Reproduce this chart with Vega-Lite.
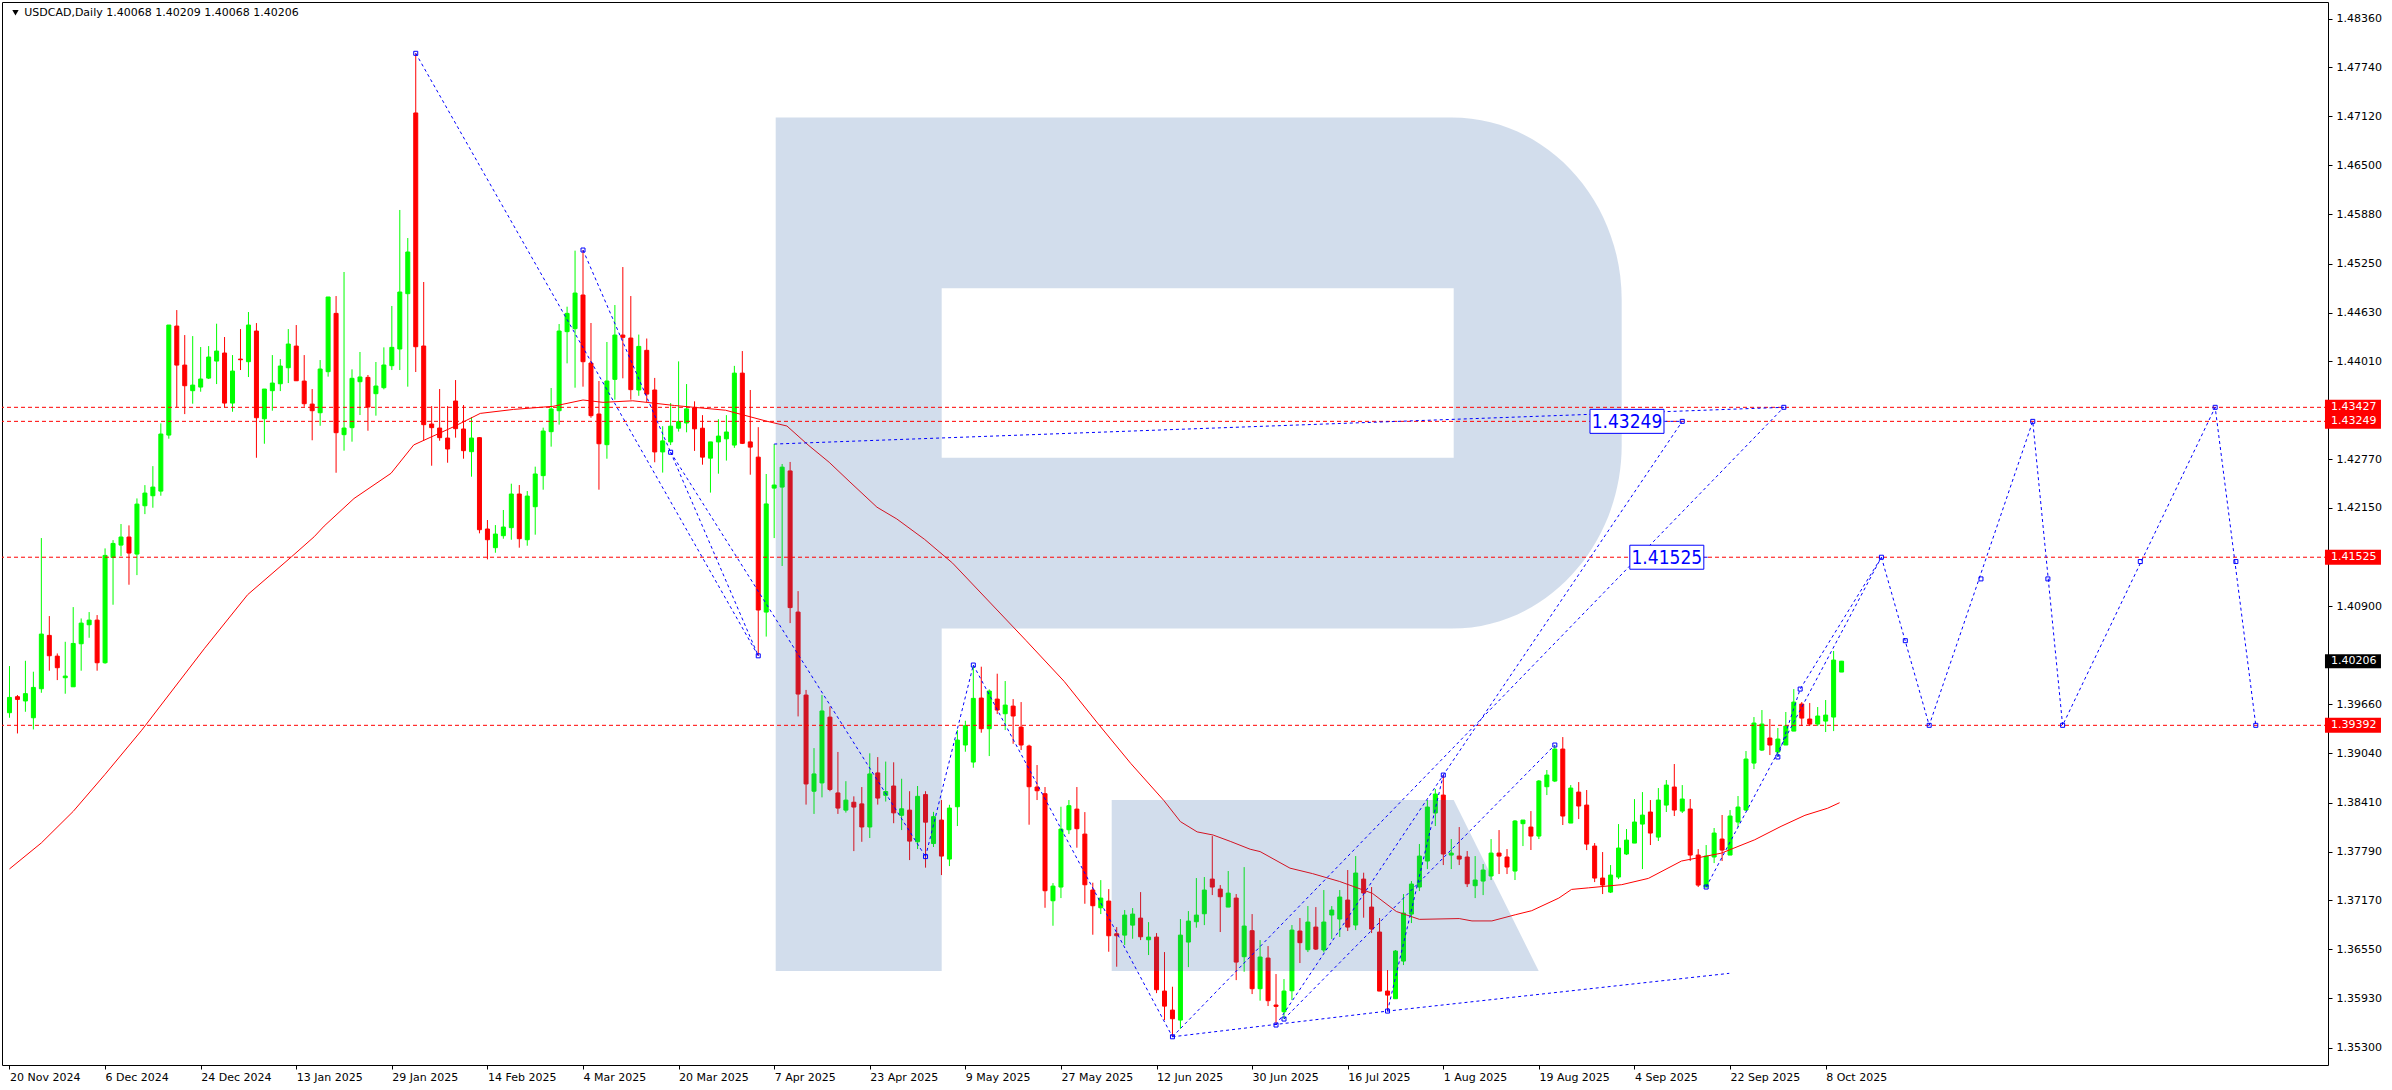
{
"$schema": "https://vega.github.io/schema/vega-lite/v6.json",
"width": 2326, "height": 1063,
"autosize": "none",
"padding": {"left": 2, "top": 2, "right": 64, "bottom": 25},
"background": "white",
"config": {"view": {"stroke": "#000000", "strokeWidth": 1}, "font": "DejaVu Sans"},
"datasets": {
"candles": [
{"i":0,"o":1.39552,"h":1.40144,"l":1.39488,"c":1.39746},{"i":1,"o":1.39755,"h":1.39776,"l":1.39289,"c":1.39721},{"i":2,"o":1.39701,"h":1.40211,"l":1.39564,"c":1.39794},{"i":3,"o":1.39488,"h":1.40072,"l":1.3934,"c":1.39873},{"i":4,"o":1.39856,"h":1.41768,"l":1.39805,"c":1.4055},{"i":5,"o":1.40533,"h":1.40778,"l":1.40085,"c":1.40275},{"i":6,"o":1.4027,"h":1.40304,"l":1.39966,"c":1.40123},{"i":7,"o":1.39996,"h":1.40452,"l":1.39793,"c":1.40017},{"i":8,"o":1.39881,"h":1.40892,"l":1.39881,"c":1.40431},{"i":9,"o":1.40427,"h":1.40748,"l":1.40085,"c":1.40689},
{"i":10,"o":1.40668,"h":1.40829,"l":1.40503,"c":1.40727},{"i":11,"o":1.40727,"h":1.40791,"l":1.40085,"c":1.40186},{"i":12,"o":1.40186,"h":1.41637,"l":1.40173,"c":1.41548},{"i":13,"o":1.41521,"h":1.41742,"l":1.40922,"c":1.417},{"i":14,"o":1.41679,"h":1.41946,"l":1.4154,"c":1.41781},{"i":15,"o":1.41781,"h":1.41929,"l":1.41176,"c":1.41578},{"i":16,"o":1.41565,"h":1.42271,"l":1.41298,"c":1.42199},{"i":17,"o":1.42178,"h":1.4244,"l":1.42072,"c":1.42339},{"i":18,"o":1.42305,"h":1.42681,"l":1.42153,"c":1.42415},{"i":19,"o":1.42364,"h":1.43223,"l":1.42305,"c":1.43088},
{"i":20,"o":1.43075,"h":1.44471,"l":1.43029,"c":1.44471},{"i":21,"o":1.44458,"h":1.44661,"l":1.43426,"c":1.43963},{"i":22,"o":1.43963,"h":1.44344,"l":1.43341,"c":1.43701},{"i":23,"o":1.43638,"h":1.44331,"l":1.43473,"c":1.43709},{"i":24,"o":1.43684,"h":1.44192,"l":1.43625,"c":1.43786},{"i":25,"o":1.43798,"h":1.44204,"l":1.43786,"c":1.44065},{"i":26,"o":1.44014,"h":1.44488,"l":1.43722,"c":1.44141},{"i":27,"o":1.44116,"h":1.44319,"l":1.43426,"c":1.43481},{"i":28,"o":1.43481,"h":1.4409,"l":1.43371,"c":1.43887},{"i":29,"o":1.44039,"h":1.4442,"l":1.439,"c":1.44031},
{"i":30,"o":1.44006,"h":1.44636,"l":1.43811,"c":1.44471},{"i":31,"o":1.44395,"h":1.44496,"l":1.42787,"c":1.43295},{"i":32,"o":1.43282,"h":1.43659,"l":1.42965,"c":1.43659},{"i":33,"o":1.43638,"h":1.4409,"l":1.43384,"c":1.43735},{"i":34,"o":1.43726,"h":1.44039,"l":1.43633,"c":1.43951},{"i":35,"o":1.43929,"h":1.4442,"l":1.43735,"c":1.4423},{"i":36,"o":1.44204,"h":1.44471,"l":1.43764,"c":1.43764},{"i":37,"o":1.4376,"h":1.4409,"l":1.43434,"c":1.43473},{"i":38,"o":1.43468,"h":1.43659,"l":1.43009,"c":1.43384},{"i":39,"o":1.43358,"h":1.44027,"l":1.43193,"c":1.43913},
{"i":40,"o":1.43879,"h":1.44827,"l":1.43816,"c":1.44827},{"i":41,"o":1.44619,"h":1.44839,"l":1.42597,"c":1.43105},{"i":42,"o":1.4308,"h":1.45144,"l":1.42877,"c":1.43164},{"i":43,"o":1.43169,"h":1.43909,"l":1.42991,"c":1.43795},{"i":44,"o":1.43752,"h":1.44129,"l":1.43329,"c":1.43812},{"i":45,"o":1.43807,"h":1.43837,"l":1.4313,"c":1.43431},{"i":46,"o":1.436,"h":1.44002,"l":1.43321,"c":1.43697},{"i":47,"o":1.43676,"h":1.44188,"l":1.43655,"c":1.43964},{"i":48,"o":1.43955,"h":1.44713,"l":1.439,"c":1.44188},{"i":49,"o":1.44167,"h":1.45931,"l":1.439,"c":1.4489},
{"i":50,"o":1.44869,"h":1.45575,"l":1.43689,"c":1.45398},{"i":51,"o":1.47162,"h":1.47919,"l":1.43875,"c":1.44196},{"i":52,"o":1.44205,"h":1.45017,"l":1.43003,"c":1.43207},{"i":53,"o":1.43215,"h":1.43443,"l":1.42686,"c":1.43169},{"i":54,"o":1.43164,"h":1.43659,"l":1.43003,"c":1.43042},{"i":55,"o":1.43037,"h":1.43443,"l":1.42724,"c":1.42898},{"i":56,"o":1.43507,"h":1.43773,"l":1.43042,"c":1.43156},{"i":57,"o":1.43152,"h":1.43456,"l":1.42775,"c":1.42877},{"i":58,"o":1.42864,"h":1.43304,"l":1.42547,"c":1.43037},{"i":59,"o":1.43042,"h":1.4305,"l":1.41828,"c":1.41874},
{"i":60,"o":1.41883,"h":1.41997,"l":1.41498,"c":1.41747},{"i":61,"o":1.41646,"h":1.41933,"l":1.41582,"c":1.41819},{"i":62,"o":1.41798,"h":1.42124,"l":1.4176,"c":1.41908},{"i":63,"o":1.419,"h":1.42458,"l":1.41747,"c":1.42327},{"i":64,"o":1.42327,"h":1.42441,"l":1.41646,"c":1.4176},{"i":65,"o":1.41747,"h":1.42365,"l":1.41671,"c":1.42301},{"i":66,"o":1.42166,"h":1.42674,"l":1.41811,"c":1.42581},{"i":67,"o":1.4256,"h":1.43169,"l":1.42382,"c":1.43126},{"i":68,"o":1.43118,"h":1.43672,"l":1.42928,"c":1.43406},{"i":69,"o":1.43384,"h":1.44484,"l":1.43207,"c":1.44395},
{"i":70,"o":1.44387,"h":1.44704,"l":1.43985,"c":1.44619},{"i":71,"o":1.44425,"h":1.45415,"l":1.43676,"c":1.44877},{"i":72,"o":1.44852,"h":1.45423,"l":1.43689,"c":1.44006},{"i":73,"o":1.43989,"h":1.44497,"l":1.43295,"c":1.43321},{"i":74,"o":1.43342,"h":1.43761,"l":1.42382,"c":1.42965},{"i":75,"o":1.42953,"h":1.44256,"l":1.42775,"c":1.43761},{"i":76,"o":1.43782,"h":1.44725,"l":1.43524,"c":1.44344},{"i":77,"o":1.44344,"h":1.45207,"l":1.43795,"c":1.44315},{"i":78,"o":1.44306,"h":1.44839,"l":1.43524,"c":1.43651},{"i":79,"o":1.43647,"h":1.4435,"l":1.43573,"c":1.442},
{"i":80,"o":1.4415,"h":1.443,"l":1.43494,"c":1.43595},{"i":81,"o":1.43647,"h":1.438,"l":1.4273,"c":1.42861},{"i":82,"o":1.42861,"h":1.43188,"l":1.42599,"c":1.43001},{"i":83,"o":1.42988,"h":1.43481,"l":1.42948,"c":1.43188},{"i":84,"o":1.43162,"h":1.4401,"l":1.43119,"c":1.43245},{"i":85,"o":1.43228,"h":1.43722,"l":1.4311,"c":1.43407},{"i":86,"o":1.4342,"h":1.43503,"l":1.42874,"c":1.43154},{"i":87,"o":1.43162,"h":1.43328,"l":1.42699,"c":1.42795},{"i":88,"o":1.42782,"h":1.42988,"l":1.42345,"c":1.42988},{"i":89,"o":1.42988,"h":1.43276,"l":1.42585,"c":1.43062},
{"i":90,"o":1.43027,"h":1.43328,"l":1.42751,"c":1.43114},{"i":91,"o":1.42948,"h":1.43953,"l":1.42913,"c":1.43861},{"i":92,"o":1.43861,"h":1.44141,"l":1.42961,"c":1.4297},{"i":93,"o":1.42988,"h":1.43647,"l":1.42572,"c":1.42922},{"i":94,"o":1.42795,"h":1.43175,"l":1.40274,"c":1.40855},{"i":95,"o":1.40829,"h":1.42581,"l":1.40518,"c":1.42201},{"i":96,"o":1.42402,"h":1.42961,"l":1.41768,"c":1.42441},{"i":97,"o":1.42415,"h":1.42708,"l":1.41414,"c":1.42668},{"i":98,"o":1.4262,"h":1.42734,"l":1.40689,"c":1.40886},{"i":99,"o":1.40829,"h":1.41095,"l":1.39505,"c":1.39789},
{"i":100,"o":1.39776,"h":1.39841,"l":1.38386,"c":1.38648},{"i":101,"o":1.38556,"h":1.39103,"l":1.38268,"c":1.38775},{"i":102,"o":1.38661,"h":1.39776,"l":1.38478,"c":1.39574},{"i":103,"o":1.39496,"h":1.39631,"l":1.38556,"c":1.38578},{"i":104,"o":1.38534,"h":1.39054,"l":1.38268,"c":1.38342},{"i":105,"o":1.38316,"h":1.38683,"l":1.38285,"c":1.38443},{"i":106,"o":1.38416,"h":1.38491,"l":1.37796,"c":1.38355},{"i":107,"o":1.38395,"h":1.38609,"l":1.37914,"c":1.38102},{"i":108,"o":1.38102,"h":1.39037,"l":1.37962,"c":1.38775},{"i":109,"o":1.38788,"h":1.38989,"l":1.38386,"c":1.38469},
{"i":110,"o":1.38504,"h":1.38932,"l":1.38425,"c":1.38552},{"i":111,"o":1.38622,"h":1.38923,"l":1.3815,"c":1.38281},{"i":112,"o":1.3825,"h":1.38714,"l":1.38063,"c":1.38333},{"i":113,"o":1.38316,"h":1.38556,"l":1.37682,"c":1.37923},{"i":114,"o":1.37914,"h":1.38622,"l":1.37822,"c":1.38491},{"i":115,"o":1.38513,"h":1.38556,"l":1.37586,"c":1.38163},{"i":116,"o":1.37892,"h":1.38294,"l":1.37848,"c":1.38233},{"i":117,"o":1.3819,"h":1.38444,"l":1.37492,"c":1.37733},{"i":118,"o":1.37695,"h":1.38384,"l":1.37606,"c":1.38342},{"i":119,"o":1.38359,"h":1.39332,"l":1.38114,"c":1.39205},
{"i":120,"o":1.39142,"h":1.3945,"l":1.39057,"c":1.39387},{"i":121,"o":1.38926,"h":1.40157,"l":1.38854,"c":1.39734},{"i":122,"o":1.39738,"h":1.40136,"l":1.39298,"c":1.39349},{"i":123,"o":1.39349,"h":1.39848,"l":1.39002,"c":1.39827},{"i":124,"o":1.39725,"h":1.40047,"l":1.39535,"c":1.39586},{"i":125,"o":1.39539,"h":1.39954,"l":1.39332,"c":1.39649},{"i":126,"o":1.39636,"h":1.39725,"l":1.39158,"c":1.3951},{"i":127,"o":1.3937,"h":1.39687,"l":1.39078,"c":1.39142},{"i":128,"o":1.39129,"h":1.39146,"l":1.38131,"c":1.38613},{"i":129,"o":1.38609,"h":1.38888,"l":1.38444,"c":1.38562},
{"i":130,"o":1.38524,"h":1.38609,"l":1.37077,"c":1.37293},{"i":131,"o":1.37166,"h":1.3739,"l":1.36849,"c":1.37352},{"i":132,"o":1.3734,"h":1.38359,"l":1.372,"c":1.38076},{"i":133,"o":1.38067,"h":1.38444,"l":1.38012,"c":1.38372},{"i":134,"o":1.38329,"h":1.38609,"l":1.37839,"c":1.3808},{"i":135,"o":1.38012,"h":1.38291,"l":1.37128,"c":1.37369},{"i":136,"o":1.37302,"h":1.37395,"l":1.36735,"c":1.37103},{"i":137,"o":1.37077,"h":1.37428,"l":1.36997,"c":1.372},{"i":138,"o":1.37162,"h":1.37314,"l":1.36519,"c":1.36722},{"i":139,"o":1.36747,"h":1.36832,"l":1.36329,"c":1.36722},
{"i":140,"o":1.3673,"h":1.37048,"l":1.36604,"c":1.36984},{"i":141,"o":1.36857,"h":1.37073,"l":1.36684,"c":1.36997},{"i":142,"o":1.36946,"h":1.37276,"l":1.36667,"c":1.36709},{"i":143,"o":1.36671,"h":1.36895,"l":1.36477,"c":1.36705},{"i":144,"o":1.36705,"h":1.36756,"l":1.35994,"c":1.36037},{"i":145,"o":1.3602,"h":1.36515,"l":1.35652,"c":1.35829},{"i":146,"o":1.35779,"h":1.36075,"l":1.3544,"c":1.35669},{"i":147,"o":1.35652,"h":1.36934,"l":1.35542,"c":1.3673},{"i":148,"o":1.36642,"h":1.37035,"l":1.36324,"c":1.36908},{"i":149,"o":1.369,"h":1.37454,"l":1.36824,"c":1.36984},
{"i":150,"o":1.37001,"h":1.37467,"l":1.36857,"c":1.37302},{"i":151,"o":1.37441,"h":1.37987,"l":1.37238,"c":1.3734},{"i":152,"o":1.37314,"h":1.37365,"l":1.36769,"c":1.37217},{"i":153,"o":1.37086,"h":1.37543,"l":1.37086,"c":1.37263},{"i":154,"o":1.372,"h":1.37251,"l":1.36159,"c":1.36388},{"i":155,"o":1.36456,"h":1.37593,"l":1.36265,"c":1.36845},{"i":156,"o":1.36786,"h":1.36997,"l":1.35982,"c":1.3605},{"i":157,"o":1.3605,"h":1.36667,"l":1.35898,"c":1.36452},{"i":158,"o":1.36439,"h":1.36591,"l":1.3583,"c":1.35898},{"i":159,"o":1.35843,"h":1.36236,"l":1.35589,"c":1.35826},
{"i":160,"o":1.35758,"h":1.36173,"l":1.35665,"c":1.3602},{"i":161,"o":1.36024,"h":1.36858,"l":1.35906,"c":1.36794},{"i":162,"o":1.36782,"h":1.36947,"l":1.36376,"c":1.36634},{"i":163,"o":1.36545,"h":1.37099,"l":1.36515,"c":1.36896},{"i":164,"o":1.36832,"h":1.37086,"l":1.36541,"c":1.36553},{"i":165,"o":1.36541,"h":1.37302,"l":1.36511,"c":1.36896},{"i":166,"o":1.36985,"h":1.37099,"l":1.3668,"c":1.37048},{"i":167,"o":1.36934,"h":1.37302,"l":1.36706,"c":1.37213},{"i":168,"o":1.37175,"h":1.37556,"l":1.36782,"c":1.36832},{"i":169,"o":1.36858,"h":1.37733,"l":1.36794,"c":1.37518},
{"i":170,"o":1.37441,"h":1.37522,"l":1.36951,"c":1.37264},{"i":171,"o":1.37086,"h":1.3734,"l":1.36756,"c":1.36807},{"i":172,"o":1.36769,"h":1.36947,"l":1.3602,"c":1.3602},{"i":173,"o":1.3602,"h":1.36287,"l":1.35766,"c":1.35969},{"i":174,"o":1.35923,"h":1.36541,"l":1.35923,"c":1.36528},{"i":175,"o":1.36401,"h":1.37251,"l":1.3635,"c":1.3701},{"i":176,"o":1.36997,"h":1.37416,"l":1.36883,"c":1.37378},{"i":177,"o":1.3734,"h":1.37886,"l":1.37289,"c":1.37733},{"i":178,"o":1.3767,"h":1.38444,"l":1.37568,"c":1.38355},{"i":179,"o":1.38279,"h":1.38584,"l":1.38114,"c":1.3852},
{"i":180,"o":1.38507,"h":1.38761,"l":1.37619,"c":1.37759},{"i":181,"o":1.37746,"h":1.37949,"l":1.37568,"c":1.37771},{"i":182,"o":1.37733,"h":1.38101,"l":1.37619,"c":1.37695},{"i":183,"o":1.37721,"h":1.37797,"l":1.3734,"c":1.37382},{"i":184,"o":1.37357,"h":1.37733,"l":1.372,"c":1.37429},{"i":185,"o":1.37416,"h":1.37632,"l":1.37238,"c":1.37556},{"i":186,"o":1.3748,"h":1.37949,"l":1.37429,"c":1.37771},{"i":187,"o":1.37771,"h":1.38063,"l":1.37505,"c":1.37733},{"i":188,"o":1.37721,"h":1.37822,"l":1.37505,"c":1.37594},{"i":189,"o":1.37543,"h":1.3819,"l":1.37429,"c":1.38178},
{"i":190,"o":1.38144,"h":1.3819,"l":1.3786,"c":1.3819},{"i":191,"o":1.38101,"h":1.38304,"l":1.3781,"c":1.37987},{"i":192,"o":1.37987,"h":1.38698,"l":1.37949,"c":1.38685},{"i":193,"o":1.38613,"h":1.38825,"l":1.38507,"c":1.38761},{"i":194,"o":1.38685,"h":1.39142,"l":1.38672,"c":1.39091},{"i":195,"o":1.39091,"h":1.39243,"l":1.38127,"c":1.38241},{"i":196,"o":1.38152,"h":1.38634,"l":1.38152,"c":1.38596},{"i":197,"o":1.38545,"h":1.38672,"l":1.38203,"c":1.38368},{"i":198,"o":1.3838,"h":1.38571,"l":1.37809,"c":1.37885},{"i":199,"o":1.3786,"h":1.37898,"l":1.37403,"c":1.37454},
{"i":200,"o":1.37454,"h":1.37784,"l":1.37251,"c":1.37365},{"i":201,"o":1.37276,"h":1.37619,"l":1.37264,"c":1.37492},{"i":202,"o":1.37467,"h":1.38139,"l":1.37441,"c":1.37835},{"i":203,"o":1.37759,"h":1.38076,"l":1.37746,"c":1.37936},{"i":204,"o":1.37898,"h":1.38456,"l":1.37898,"c":1.38165},{"i":205,"o":1.38139,"h":1.38545,"l":1.37568,"c":1.38253},{"i":206,"o":1.38292,"h":1.38444,"l":1.37873,"c":1.38025},{"i":207,"o":1.37974,"h":1.38596,"l":1.37924,"c":1.38444},{"i":208,"o":1.3838,"h":1.38698,"l":1.38292,"c":1.38634},{"i":209,"o":1.38609,"h":1.38901,"l":1.38241,"c":1.38317},
{"i":210,"o":1.38304,"h":1.38634,"l":1.38279,"c":1.38457},{"i":211,"o":1.3833,"h":1.38457,"l":1.3767,"c":1.37746},{"i":212,"o":1.37746,"h":1.37822,"l":1.3734,"c":1.37365},{"i":213,"o":1.3734,"h":1.37873,"l":1.3734,"c":1.37733},{"i":214,"o":1.37721,"h":1.38089,"l":1.37644,"c":1.38025},{"i":215,"o":1.37949,"h":1.38254,"l":1.3767,"c":1.37809},{"i":216,"o":1.37746,"h":1.38317,"l":1.37746,"c":1.38241},{"i":217,"o":1.38165,"h":1.38495,"l":1.38101,"c":1.38355},{"i":218,"o":1.38317,"h":1.39066,"l":1.38304,"c":1.38964},{"i":219,"o":1.38913,"h":1.39497,"l":1.38837,"c":1.39421},
{"i":220,"o":1.39078,"h":1.39586,"l":1.39066,"c":1.39408},{"i":221,"o":1.39231,"h":1.39472,"l":1.39015,"c":1.39142},{"i":222,"o":1.39053,"h":1.39358,"l":1.3899,"c":1.39218},{"i":223,"o":1.39142,"h":1.39561,"l":1.39142,"c":1.39383},{"i":224,"o":1.39319,"h":1.39852,"l":1.39319,"c":1.39687},{"i":225,"o":1.39662,"h":1.39687,"l":1.39383,"c":1.39484},{"i":226,"o":1.39472,"h":1.39675,"l":1.39383,"c":1.39408},{"i":227,"o":1.39408,"h":1.39624,"l":1.39383,"c":1.3951},{"i":228,"o":1.39446,"h":1.39713,"l":1.39307,"c":1.39522},{"i":229,"o":1.39497,"h":1.40335,"l":1.39319,"c":1.4022},
{"i":230,"o":1.40068,"h":1.40209,"l":1.40068,"c":1.40206}
],
"ma": [
{"i":0,"p":1.3757},{"i":4,"p":1.379},{"i":8,"p":1.383},{"i":12,"p":1.3877},{"i":16.6,"p":1.3933},{"i":24.5,"p":1.4037},{"i":29.9,"p":1.4105},{"i":35.4,"p":1.4153},{"i":38.25,"p":1.41785},{"i":39.5,"p":1.4192},{"i":43.25,"p":1.4227},{"i":47.9,"p":1.4259},{"i":50.75,"p":1.4295},{"i":55.75,"p":1.4318},{"i":59.1,"p":1.4335},{"i":63.25,"p":1.434},{"i":68.25,"p":1.4344},{"i":72,"p":1.4352},{"i":74.5,"p":1.4349},{"i":78.25,"p":1.4351},{"i":83.5,"p":1.4345},{"i":89.9,"p":1.4339},{"i":95.1,"p":1.4325},{"i":97.6,"p":1.4319},{"i":100.25,"p":1.4295},{"i":102.9,"p":1.4273},{"i":105.4,"p":1.4249},{"i":108.9,"p":1.4216},{"i":111.4,"p":1.4201},{"i":114.9,"p":1.4175},{"i":118.4,"p":1.4145},{"i":127.6,"p":1.4047},{"i":132.4,"p":1.3995},{"i":136.6,"p":1.3942},{"i":140.75,"p":1.3891},{"i":144.9,"p":1.3844},{"i":147,"p":1.3817},{"i":149.1,"p":1.3804},{"i":151.1,"p":1.38},{"i":153.25,"p":1.3792},{"i":155.75,"p":1.3782},{"i":157,"p":1.3779},{"i":160.75,"p":1.3758},{"i":163.6,"p":1.3751},{"i":167,"p":1.3741},{"i":171.1,"p":1.3726},{"i":174.1,"p":1.3703},{"i":177,"p":1.3693},{"i":182,"p":1.3694},{"i":183.6,"p":1.3691},{"i":186.1,"p":1.3691},{"i":189.1,"p":1.3699},{"i":191.1,"p":1.3704},{"i":194.5,"p":1.372},{"i":196.1,"p":1.3731},{"i":198.25,"p":1.3733},{"i":202.4,"p":1.3737},{"i":205.75,"p":1.3745},{"i":209.9,"p":1.3767},{"i":214.9,"p":1.3777},{"i":219.1,"p":1.3794},{"i":222.4,"p":1.3811},{"i":225.4,"p":1.3825},{"i":228.25,"p":1.3834},{"i":229.75,"p":1.3841}
],
"blue": [
{"s":"a","i":51,"p":1.47919},{"s":"a","i":94,"p":1.40274},
{"s":"b","i":72,"p":1.45423},{"s":"b","i":83,"p":1.42857},
{"s":"c","i":83,"p":1.42857},{"s":"c","i":94,"p":1.40274},
{"s":"d","i":83,"p":1.42857},{"s":"d","i":115,"p":1.37726},
{"s":"e","i":115,"p":1.37726},{"s":"e","i":121,"p":1.40157},
{"s":"f","i":121,"p":1.40157},{"s":"f","i":146,"p":1.3544},
{"s":"g","i":146,"p":1.3544},{"s":"g","i":222.75,"p":1.43427},
{"s":"h","i":159,"p":1.35589},{"s":"h","i":180,"p":1.38761},{"s":"h","i":210,"p":1.43249},
{"s":"k","i":146,"p":1.3544},{"s":"k","i":173,"p":1.35766},{"s":"k","i":215.9,"p":1.36245},
{"s":"m","i":96,"p":1.42961},{"s":"m","i":222.75,"p":1.43427},
{"s":"n","i":160,"p":1.35665},{"s":"n","i":194,"p":1.39142},
{"s":"q","i":173,"p":1.35766},{"s":"q","i":180,"p":1.38761},
{"s":"r","i":213,"p":1.3734},{"s":"r","i":235,"p":1.41525},
{"s":"t","i":222,"p":1.3899},{"s":"t","i":224.8,"p":1.39852},{"s":"t","i":235,"p":1.41525},
{"s":"z","i":235,"p":1.41525},{"s":"z","i":241,"p":1.39392},{"s":"z","i":254,"p":1.43249},{"s":"z","i":257.75,"p":1.39392},{"s":"z","i":276.9,"p":1.43427},{"s":"z","i":282,"p":1.39392},
{"s":"u","i":207.75,"p":1.43249},{"s":"u","i":210,"p":1.43249},
{"s":"v","i":212.8,"p":1.41525},{"s":"v","i":213.3,"p":1.41525}
],
"markers": [
{"i":51,"p":1.47919},{"i":72,"p":1.45423},{"i":83,"p":1.42857},{"i":94,"p":1.40274},{"i":115,"p":1.37726},{"i":121,"p":1.40157},{"i":146,"p":1.3544},{"i":159,"p":1.35589},{"i":160,"p":1.35665},{"i":173,"p":1.35766},{"i":180,"p":1.38761},{"i":194,"p":1.39142},{"i":210,"p":1.43249},{"i":213,"p":1.3734},{"i":222,"p":1.3899},{"i":224.8,"p":1.39852},{"i":222.75,"p":1.43427},{"i":235,"p":1.41525},{"i":238,"p":1.40466},{"i":241,"p":1.39392},{"i":247.5,"p":1.4125},{"i":254,"p":1.43249},{"i":255.9,"p":1.4125},{"i":257.75,"p":1.39392},{"i":267.5,"p":1.4147},{"i":276.9,"p":1.43427},{"i":279.5,"p":1.4147},{"i":282,"p":1.39392}
],
"levels": [{"p":1.43427},{"p":1.43249},{"p":1.41525},{"p":1.39392}],
"tags": [{"p":1.43427,"t":"1.43427"},{"p":1.43249,"t":"1.43249"},{"p":1.41525,"t":"1.41525"},{"p":1.39392,"t":"1.39392"}],
"bluetags": [{"i":203.06,"p":1.43249,"t":"1.43249"},{"i":208.06,"p":1.41525,"t":"1.41525"}]
},
"layer": [
{
"data": {"name": "candles"},
"mark": {"type": "rule", "strokeWidth": 1},
"encoding": {
"x": {"field": "i", "type": "quantitative", "scale": {"domain": [-0.3125, 290.4375], "nice": false, "zero": false},
"axis": {"title": null, "grid": false, "domain": false, "values": [0,12,24,36,48,60,72,84,96,108,120,132,144,156,168,180,192,204,216,228],
"labelExpr": "['20 Nov 2024','6 Dec 2024','24 Dec 2024','13 Jan 2025','29 Jan 2025','14 Feb 2025','4 Mar 2025','20 Mar 2025','7 Apr 2025','23 Apr 2025','9 May 2025','27 May 2025','12 Jun 2025','30 Jun 2025','16 Jul 2025','1 Aug 2025','19 Aug 2025','4 Sep 2025','22 Sep 2025','8 Oct 2025'][round(datum.value/12)]",
"labelAlign": "left", "labelBaseline": "top", "labelPadding": 2, "tickSize": 4, "tickColor": "#000000", "labelColor": "#000000", "labelFont": "DejaVu Sans", "labelFontSize": 11, "labelFlush": false, "labelOverlap": false, "labelBound": false}},
"y": {"field": "l", "type": "quantitative", "scale": {"domain": [1.35082, 1.4857], "nice": false, "zero": false},
"axis": {"title": null, "orient": "right", "grid": false, "domain": false, "values": [1.4836,1.4774,1.4712,1.465,1.4588,1.4525,1.4463,1.4401,1.4277,1.4215,1.409,1.3966,1.3904,1.3841,1.3779,1.3717,1.3655,1.3593,1.353],
"format": ".5f", "tickSize": 4, "tickColor": "#000000", "labelColor": "#000000", "labelFont": "DejaVu Sans", "labelFontSize": 11, "labelPadding": 4, "labelOverlap": false, "labelFlush": false, "labelBound": false}},
"y2": {"field": "h"},
"color": {"condition": {"test": "datum.c >= datum.o", "value": "#00ff00"}, "value": "#ff0000"}
}
},
{
"data": {"name": "candles"},
"mark": {"type": "bar", "width": 4, "strokeWidth": 1},
"encoding": {
"x": {"field": "i", "type": "quantitative"},
"y": {"field": "o", "type": "quantitative"},
"y2": {"field": "c"},
"color": {"condition": {"test": "datum.c >= datum.o", "value": "#00ff00"}, "value": "#ff0000"},
"stroke": {"condition": {"test": "datum.c >= datum.o", "value": "#00ff00"}, "value": "#ff0000"}
}
},
{
"data": {"name": "ma"},
"mark": {"type": "line", "color": "#ff0000", "strokeWidth": 1},
"encoding": {"x": {"field": "i", "type": "quantitative"}, "y": {"field": "p", "type": "quantitative"}}
},
{
"data": {"values": [{"name": "logo"}]},
"mark": {"type": "point", "filled": true, "fill": "#2b5fa7", "fillOpacity": 0.21, "strokeWidth": 0, "size": 4,
"shape": "M0,0 H676 C771,0 846,82.5 846,182.5 V327.5 C846,427.5 771,511 676,511 H166 V853.5 H0 Z M166,170.8 V340.2 H678 V170.8 Z M336,682.5 H678 L763,853.5 H336 Z"},
"encoding": {"x": {"datum": 96.19, "type": "quantitative"}, "y": {"datum": 1.47104, "type": "quantitative"}}
},
{
"data": {"name": "levels"},
"mark": {"type": "rule", "color": "#ff0000", "strokeWidth": 1, "strokeDash": [4, 3]},
"encoding": {"y": {"field": "p", "type": "quantitative"}}
},
{
"data": {"name": "blue"},
"mark": {"type": "line", "color": "#0000ff", "strokeWidth": 1, "strokeDash": [3, 3]},
"encoding": {"x": {"field": "i", "type": "quantitative"}, "y": {"field": "p", "type": "quantitative"}, "detail": {"field": "s"}}
},
{
"data": {"name": "markers"},
"mark": {"type": "point", "shape": "square", "size": 16, "filled": false, "color": "#0000ff", "strokeWidth": 1, "opacity": 1},
"encoding": {"x": {"field": "i", "type": "quantitative"}, "y": {"field": "p", "type": "quantitative"}}
},
{
"data": {"name": "bluetags"},
"mark": {"type": "point", "shape": "M-37,-12 H37 V12 H-37 Z", "size": 4, "filled": true, "fill": "#ffffff", "stroke": "#0000ff", "strokeWidth": 1, "opacity": 1},
"encoding": {"x": {"field": "i", "type": "quantitative"}, "y": {"field": "p", "type": "quantitative"}}
},
{
"data": {"name": "bluetags"},
"mark": {"type": "text", "font": "DejaVu Sans Condensed, DejaVu Sans", "fontSize": 19, "color": "#0000ff", "align": "center", "baseline": "middle", "dy": 1},
"encoding": {"x": {"field": "i", "type": "quantitative"}, "y": {"field": "p", "type": "quantitative"}, "text": {"field": "t"}}
},
{
"data": {"name": "tags"},
"mark": {"type": "point", "shape": "M-28,-7.5 H28 V7.5 H-28 Z", "size": 4, "filled": true, "fill": "#ff0000", "strokeWidth": 0, "opacity": 1},
"encoding": {"x": {"datum": 294.2, "type": "quantitative"}, "y": {"field": "p", "type": "quantitative"}}
},
{
"data": {"name": "tags"},
"mark": {"type": "text", "font": "DejaVu Sans", "fontSize": 11, "color": "#ffffff", "align": "left", "baseline": "middle"},
"encoding": {"x": {"datum": 291.45, "type": "quantitative"}, "y": {"field": "p", "type": "quantitative"}, "text": {"field": "t"}}
},
{
"data": {"values": [{"p": 1.40206, "t": "1.40206"}]},
"mark": {"type": "point", "shape": "M-28,-7 H28 V7 H-28 Z", "size": 4, "filled": true, "fill": "#000000", "strokeWidth": 0, "opacity": 1},
"encoding": {"x": {"datum": 294.2, "type": "quantitative"}, "y": {"field": "p", "type": "quantitative"}}
},
{
"data": {"values": [{"p": 1.40206, "t": "1.40206"}]},
"mark": {"type": "text", "font": "DejaVu Sans", "fontSize": 11, "color": "#ffffff", "align": "left", "baseline": "middle"},
"encoding": {"x": {"datum": 291.45, "type": "quantitative"}, "y": {"field": "p", "type": "quantitative"}, "text": {"field": "t"}}
},
{
"data": {"values": [{"t": "USDCAD,Daily  1.40068 1.40209 1.40068 1.40206"}]},
"mark": {"type": "text", "font": "DejaVu Sans", "fontSize": 11, "color": "#000000", "align": "left", "baseline": "middle"},
"encoding": {"x": {"datum": 1.85, "type": "quantitative"}, "y": {"datum": 1.48434, "type": "quantitative"}, "text": {"field": "t"}}
},
{
"data": {"values": [{"t": "x"}]},
"mark": {"type": "point", "shape": "triangle-down", "size": 40, "filled": true, "color": "#000000", "opacity": 1},
"encoding": {"x": {"datum": 0.75, "type": "quantitative"}, "y": {"datum": 1.48434, "type": "quantitative"}}
}
]
}
